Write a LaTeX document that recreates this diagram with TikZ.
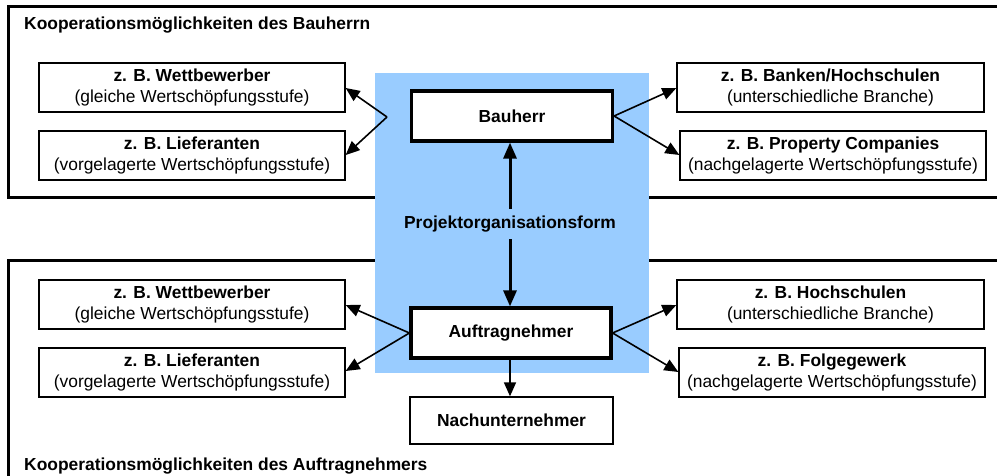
\documentclass[tikz,border=0pt]{standalone}
\usepackage{fontspec}
\setmainfont{Liberation Sans}
\usetikzlibrary{arrows.meta}
\definecolor{projblue}{HTML}{99CCFF}
\begin{document}
\begin{tikzpicture}[x=1pt,y=-1pt,
  font=\fontsize{17.4}{21.5}\selectfont,
  frame/.style={draw=black,line width=3pt},
  partner/.style={draw=black,line width=1.3pt,fill=white,minimum width=306pt,minimum height=49pt,inner sep=0pt,align=center},
  party/.style={draw=black,line width=3.2pt,fill=white,minimum width=201pt,minimum height=50pt,inner sep=0pt,font=\fontsize{17.4}{21.5}\selectfont\bfseries},
  sub/.style={draw=black,line width=1.3pt,fill=white,minimum width=203pt,minimum height=47pt,inner sep=0pt,font=\fontsize{17.4}{21.5}\selectfont\bfseries},
  link/.style={line width=1.6pt,-{Triangle[length=14pt,width=12pt]}},
  mainlink/.style={line width=3pt,-{Triangle[length=16pt,width=13pt]}},
  heading/.style={anchor=west,inner sep=0pt,font=\fontsize{17.4}{21.5}\selectfont\bfseries}]
\useasboundingbox (0,0) rectangle (997,476);
\begin{scope}
\clip (0,0) rectangle (997,476);
% outer frames of the two cooperation areas
\draw[frame] (8,7) rectangle (1010,198);
\draw[frame] (8,260) rectangle (1010,495);
% project organisation area
\fill[projblue] (375,73) rectangle (649,373);
\end{scope}

\node[heading] (titleBH) at (24,25) {Kooperationsmöglichkeiten des Bauherrn};
\node[heading] (titleAN) at (24,466) {Kooperationsmöglichkeiten des Auftragnehmers};

% central parties
\node[party] (bauherr) at (512,116) {Bauherr};
\node[party,minimum width=200pt] (auftrag) at (511,333) {Auftragnehmer};
\node[sub] (nach) at (511.5,420.5) {Nachunternehmer};
\node[font=\fontsize{17.4}{21.5}\selectfont\bfseries,inner sep=0pt,minimum height=30pt] (porg) at (510,224) {Projektorganisationsform};

% partners of the client
\node[partner] (bhWett) at (192,87.5) {\textbf{z. B. Wettbewerber}\\(gleiche Wertschöpfungsstufe)};
\node[partner] (bhLief) at (192,155.5) {\textbf{z. B. Lieferanten}\\(vorgelagerte Wertschöpfungsstufe)};
\node[partner,minimum width=307pt] (bhBank) at (830.5,87.5) {\textbf{z. B. Banken/Hochschulen}\\(unterschiedliche Branche)};
\node[partner] (bhProp) at (833,155.5) {\textbf{z. B. Property Companies}\\(nachgelagerte Wertschöpfungsstufe)};

% partners of the contractor
\node[partner] (anWett) at (192,304.5) {\textbf{z. B. Wettbewerber}\\(gleiche Wertschöpfungsstufe)};
\node[partner] (anLief) at (192,372.5) {\textbf{z. B. Lieferanten}\\(vorgelagerte Wertschöpfungsstufe)};
\node[partner,minimum width=307pt] (anHoch) at (830.5,304.5) {\textbf{z. B. Hochschulen}\\(unterschiedliche Branche)};
\node[partner] (anFolg) at (832,372.5) {\textbf{z. B. Folgegewerk}\\(nachgelagerte Wertschöpfungsstufe)};

% connectors
\coordinate (bhFork) at (387,117);
\draw[link] (bhFork) -- (bhWett.east |- 0,88);
\draw[link] (bhFork) -- (bhLief.east |- 0,155);
\draw[link] (bauherr.east) -- (bhBank.west |- 0,88);
\draw[link] (bauherr.east) -- (bhProp.west |- 0,155);
\draw[link] (auftrag.west) -- (anWett.east |- 0,305);
\draw[link] (auftrag.west) -- (anLief.east |- 0,371);
\draw[link] (auftrag.east) -- (anHoch.west |- 0,305);
\draw[link] (auftrag.east) -- (anFolg.west |- 0,372);
\draw[mainlink] (porg.north -| 510,0) -- (bauherr.south -| 510,0);
\draw[mainlink] (porg.south -| 510,0) -- (auftrag.north -| 510,0);
\draw[link] (auftrag.south -| 510,0) -- (nach.north -| 510,0);
\end{tikzpicture}
\end{document}
